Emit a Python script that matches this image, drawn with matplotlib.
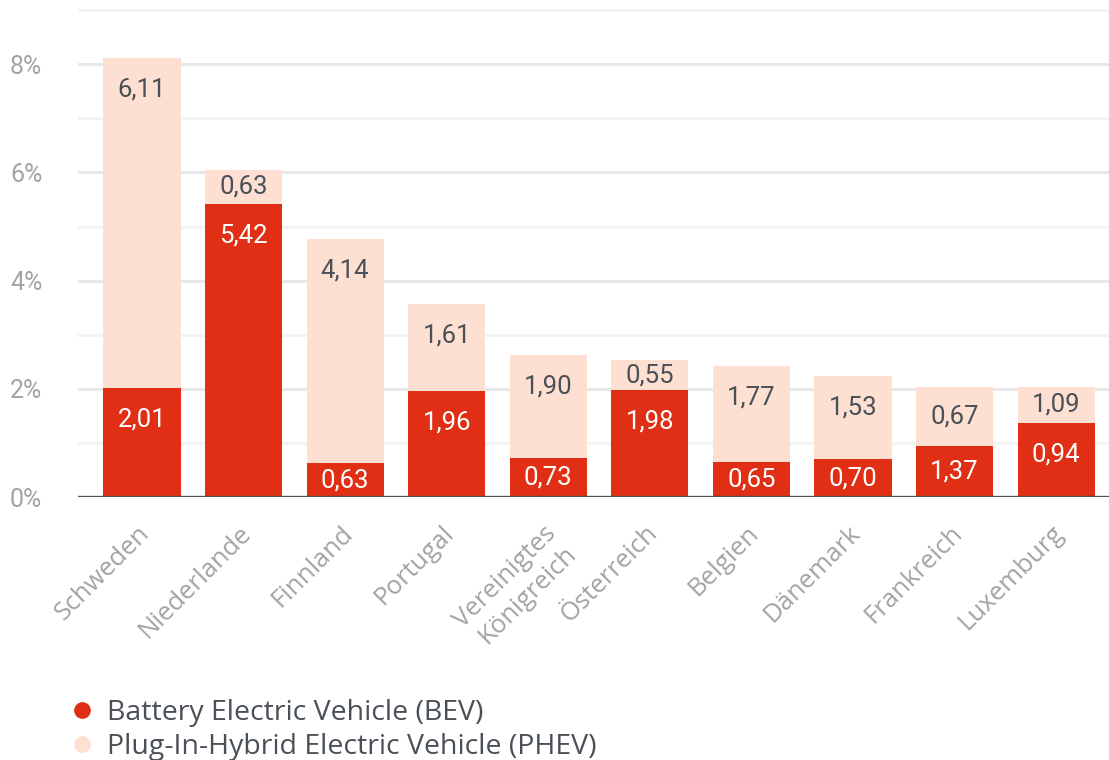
import numpy as np
from matplotlib import pyplot as plt
from matplotlib.lines import Line2D
from matplotlib.transforms import ScaledTranslation

countries = ["Schweden", "Niederlande", "Finnland", "Portugal", "Vereinigtes\nKönigreich",
             "Österreich", "Belgien", "Dänemark", "Frankreich", "Luxemburg"]
# bar heights as drawn in the picture
bev = [2.01, 5.42, 0.63, 1.96, 0.73, 1.98, 0.65, 0.70, 0.94, 1.37]
phev = [6.11, 0.63, 4.14, 1.61, 1.90, 0.55, 1.77, 1.53, 1.09, 0.67]
# labels as printed (Frankreich / Luxemburg differ from the drawn heights)
bev_labels = ["2,01", "5,42", "0,63", "1,96", "0,73", "1,98", "0,65", "0,70", "1,37", "0,94"]
phev_labels = ["6,11", "0,63", "4,14", "1,61", "1,90", "0,55", "1,77", "1,53", "0,67", "1,09"]
yticks = [0, 2, 4, 6, 8]
ytick_labels = ["0%", "2%", "4%", "6%", "8%"]

RED = "#e02f15"
PEACH = "#fde0d1"
TXT = "#4a5057"
GREY = "#a3a3a3"

plt.rcParams["font.family"] = ["Roboto", "DejaVu Sans"]

fig = plt.figure(figsize=(11.09, 7.6), dpi=100)
ax = fig.add_axes([0.0703, 0.346, 0.9297, 0.642])

x = np.arange(len(countries))
width = 0.76
bev = np.array(bev)
phev = np.array(phev)

# grid lines
for v in range(0, 10):
    color = "#e8e8e8" if v % 2 == 0 else "#f3f3f3"
    ax.axhline(v, color=color, lw=2.2, zorder=0)

ax.bar(x, bev, width, color=RED, zorder=2)
ax.bar(x, phev, width, bottom=bev, color=PEACH, zorder=2)

off = 0.58
for i in range(len(x)):
    yb = max(bev[i] - off, bev[i] / 2)
    ax.text(x[i], yb, bev_labels[i], ha="center", va="center", color="white",
            fontsize=18.5, zorder=3)
    top = bev[i] + phev[i]
    yp = max(top - off, bev[i] + phev[i] / 2)
    ax.text(x[i], yp, phev_labels[i], ha="center", va="center", color=TXT,
            fontsize=18.5, zorder=3)

ax.axhline(0, color="#505050", lw=2.4, zorder=4)

ax.set_xlim(-0.63, 9.52)
ax.set_ylim(0, 9.02)
ax.set_yticks(yticks)
ax.set_yticklabels(ytick_labels, fontsize=18, color=GREY)
ax.set_xticks(x)
ax.set_xticklabels(countries, rotation=45, ha="right", rotation_mode="anchor",
                   fontsize=18.5, color=GREY, family="Open Sans")
ax.tick_params(axis="both", length=0)
ax.tick_params(axis="x", pad=17)
ax.tick_params(axis="y", pad=49)
shift = ScaledTranslation(-5 / 100, 0, fig.dpi_scale_trans)
for lab in ax.get_xticklabels():
    lab.set_transform(lab.get_transform() + shift)
for lab in ax.get_yticklabels():
    lab.set_horizontalalignment("left")
for s in ax.spines.values():
    s.set_visible(False)

handles = [Line2D([], [], marker="o", ls="", color=RED, markersize=11),
           Line2D([], [], marker="o", ls="", color=PEACH, markersize=11)]
fig.legend(handles, ["Battery Electric Vehicle (BEV)", "Plug-In-Hybrid Electric Vehicle (PHEV)"],
           loc="upper left", bbox_to_anchor=(0.064, 0.080), frameon=False,
           prop={"family": "Open Sans", "size": 20.5}, labelcolor=TXT,
           handlelength=0.75, handletextpad=0.5, labelspacing=0.2,
           borderpad=0, borderaxespad=0)

fig.savefig("out.png", dpi=100)
